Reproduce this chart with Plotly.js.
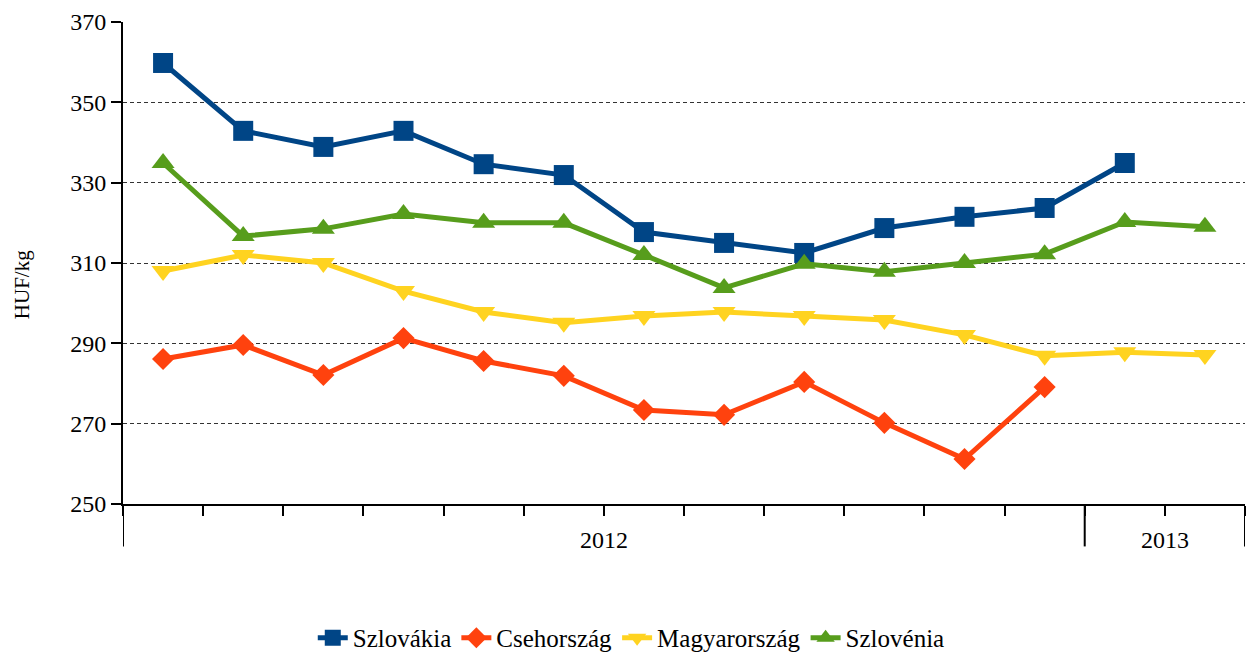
<!DOCTYPE html>
<html><head><meta charset="utf-8">
<script src="https://cdn.plot.ly/plotly-3.0.1.min.js"></script>
<style>html,body{margin:0;padding:0;background:#fff}#chart{width:1250px;height:652px}</style>
</head><body><div id="chart"></div>
<script>
const months = ['2012 jan.','2012 febr.','2012 márc.','2012 ápr.','2012 máj.','2012 jún.','2012 júl.','2012 aug.','2012 szept.','2012 okt.','2012 nov.','2012 dec.','2013 jan.','2013 febr.'];
const years = ['2012','2013'];
const yearCounts = [12, 2];
const szlovakia = [359.8,342.9,338.9,342.9,334.6,331.9,317.7,315.0,312.5,318.7,321.5,323.7,334.9,null];
const csehorszag = [286.1,289.6,282.1,291.3,285.6,281.9,273.4,272.2,280.4,270.2,261.2,279.1,null,null];
const magyarorszag = [308.0,312.0,310.0,303.0,297.8,295.1,296.8,297.8,296.8,295.8,292.1,286.9,287.8,287.1];
const szlovenia = [334.9,316.7,318.5,322.2,320.0,320.0,312.0,303.8,309.8,307.8,310.0,312.2,320.2,319.0];
const seriesNames = ['Szlovákia','Csehország','Magyarország','Szlovénia'];
const yTitle = 'HUF/kg';

const FONT = "'Liberation Serif', 'Times New Roman', Times, serif";
const colors = ['#004586','#ff420e','#ffd320','#579d1c'];
const symbols = ['square','diamond','triangle-down','triangle-up'];
const sizes = [20,17,20,20];
const data = [szlovakia, csehorszag, magyarorszag, szlovenia].map((v,i)=>({
  type:'scatter', mode:'lines+markers', name:seriesNames[i], x:months, y:v,
  line:{color:colors[i], width:5}, marker:{color:colors[i], symbol:symbols[i], size:sizes[i]},
  connectgaps:false
}));

const shapes = [];
const annotations = [];
let start = 0;
const bounds = [-0.5];
years.forEach((yr,i)=>{
  const end = start + yearCounts[i];
  bounds.push(end - 0.5);
  annotations.push({text:yr, x:(start+end-1)/2, xref:'x', y:-0.075, yref:'paper', showarrow:false,
    font:{family:FONT, size:24, color:'#000'}, xanchor:'center', yanchor:'middle'});
  start = end;
});
bounds.forEach(b=>shapes.push({type:'line', xref:'x', yref:'paper', x0:b, x1:b, y0:0, y1:-0.088,
  line:{color:'#000', width:2}}));
annotations.push({text:yTitle, xref:'paper', yref:'paper', x:-0.09, y:0.454, textangle:-90,
  xanchor:'center', yanchor:'middle',
  showarrow:false, font:{family:FONT, size:21, color:'#000'}});

const layout = {
  width:1250, height:652,
  margin:{l:123, r:5, t:22, b:148, autoexpand:false},
  paper_bgcolor:'#fff', plot_bgcolor:'#fff',
  font:{family:FONT, color:'#000'},
  showlegend:true,
  legend:{orientation:'h', x:0.453, xanchor:'center', y:-0.278, yanchor:'middle',
    font:{family:FONT, size:25, color:'#000'}, itemwidth:30, tracegroupgap:0},
  xaxis:{type:'category', categoryorder:'array', categoryarray:months, range:[-0.5,13.5],
    tickson:'boundaries', ticks:'outside', ticklen:10, tickwidth:2, tickcolor:'#000',
    showticklabels:false, showgrid:false, showline:true, linecolor:'#000', linewidth:2, zeroline:false},
  yaxis:{range:[250,370], dtick:20, tick0:250, ticks:'outside', ticklen:10, tickwidth:2, tickcolor:'#000',
    showline:true, linecolor:'#000', linewidth:2, showgrid:true, gridcolor:'#333', gridwidth:1, griddash:'4px,3px',
    zeroline:false, tickfont:{family:FONT, size:24, color:'#000'}},
  shapes:shapes, annotations:annotations
};
Plotly.newPlot('chart', data, layout, {displayModeBar:false, staticPlot:true});
</script></body></html>
